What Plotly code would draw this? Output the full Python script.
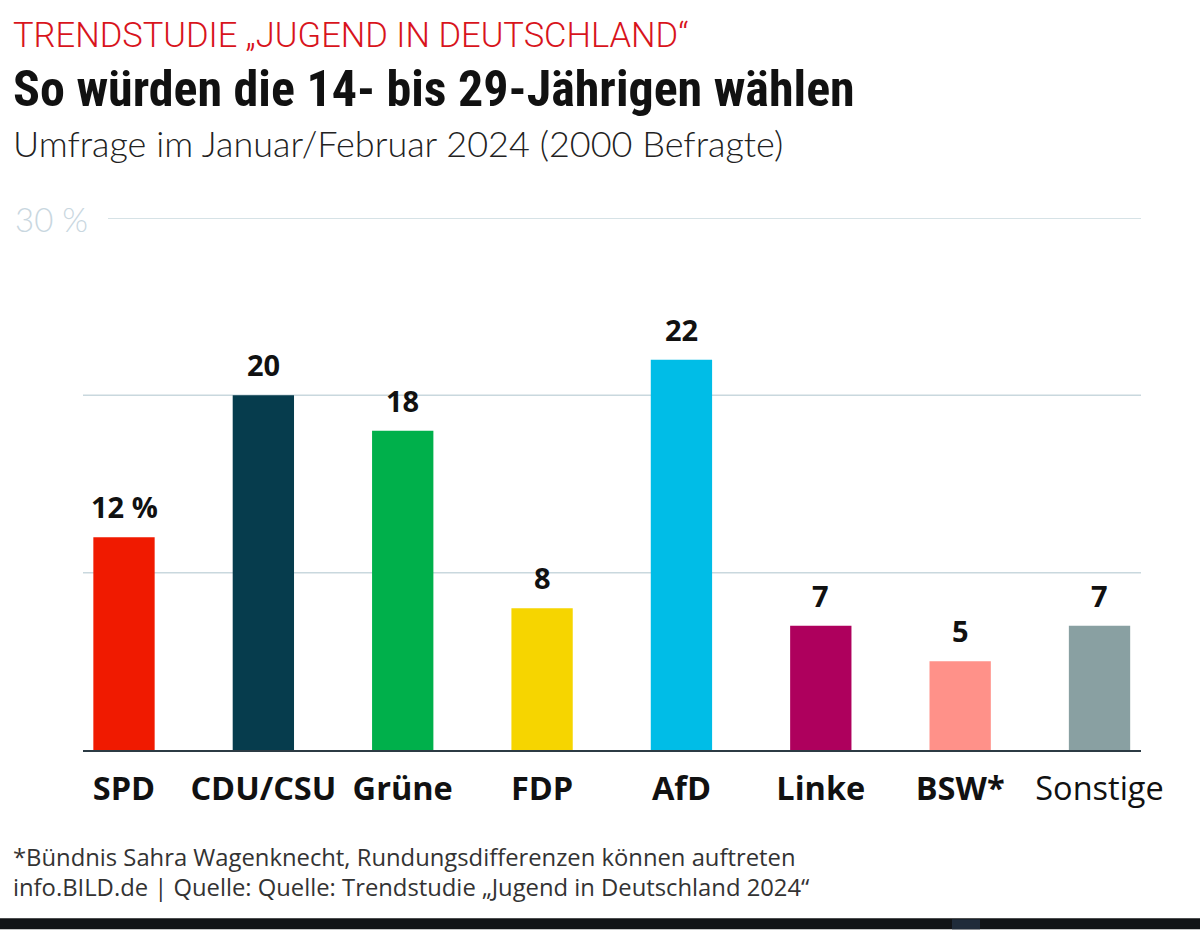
import plotly.graph_objects as go

# ---- data ----
categories = ["SPD", "CDU/CSU", "Grüne", "FDP", "AfD", "Linke", "BSW*", "Sonstige"]
values = [12, 20, 18, 8, 22, 7, 5, 7]
value_labels = ["12 %", "20", "18", "8", "22", "7", "5", "7"]
bold_flags = [True, True, True, True, True, True, True, False]
colors = ["#f01a00", "#063c4d", "#00b04b", "#f6d500", "#00bde7", "#ae005d", "#ff9189", "#89a0a2"]
grid_values = [10, 20, 30]

W, H = 1200, 930
OFF = 0  # page body margin removed via post_script
# plot area in page pixels
P_LEFT, P_RIGHT, P_TOP, P_BOTTOM = 83, 1141, 218, 750.5
L = P_LEFT - OFF
R = W - (P_RIGHT - OFF)
T = P_TOP - OFF
B = H - (P_BOTTOM - OFF)
PW, PH = P_RIGHT - P_LEFT, P_BOTTOM - P_TOP


def px(xp):
    return (xp - P_LEFT) / PW


def py(yp):
    return (P_BOTTOM - yp) / PH


# x range so that category centres fall at the reference positions
x0 = (P_LEFT - 124) / 139.36
x1 = (P_RIGHT - 124) / 139.36

fig = go.Figure()
fig.add_trace(go.Bar(
    x=list(range(len(categories))),
    y=values,
    marker=dict(color=colors, line=dict(width=0)),
    width=0.44,
    hoverinfo="skip",
))

ticktext = [f"<b>{c}</b>" if b else c for c, b in zip(categories, bold_flags)]

fig.update_layout(
    width=W, height=H,
    margin=dict(l=L, r=R, t=T, b=B, pad=0),
    paper_bgcolor="white", plot_bgcolor="white",
    showlegend=False,
    font=dict(family="Open Sans, DejaVu Sans, sans-serif", color="#111"),
    xaxis=dict(
        range=[x0, x1],
        tickmode="array",
        tickvals=list(range(len(categories))),
        ticktext=ticktext,
        tickfont=dict(size=32.5, color="#111", family="Open Sans, sans-serif"),
        showgrid=False, zeroline=False,
        showline=True, linecolor="#2c3b44", linewidth=2,
        ticks="", ticklabelstandoff=9,
        fixedrange=True,
    ),
    yaxis=dict(
        range=[0, 30],
        showgrid=False, zeroline=False, showticklabels=False,
        fixedrange=True,
    ),
)

# grid lines
for g in grid_values:
    fig.add_shape(
        type="line", xref="paper", yref="y",
        x0=px(108) if g == 30 else 0, x1=1, y0=g, y1=g,
        line=dict(color="#c9d8de", width=1.5), layer="below",
    )

# value labels
for i, (v, t) in enumerate(zip(values, value_labels)):
    fig.add_annotation(
        x=i, y=v, xref="x", yref="y", text=f"<b>{t}</b>",
        showarrow=False, yanchor="bottom", yshift=9,
        font=dict(size=29, color="#111", family="Open Sans, sans-serif"),
    )

# "30 %" axis label
fig.add_annotation(
    x=px(13), y=py(219), xref="paper", yref="paper", text="30 %",
    showarrow=False, xanchor="left", yanchor="middle",
    font=dict(size=33, color="#c9d7df", family="Lato, sans-serif", weight=300),
)

# header texts
fig.add_annotation(
    x=px(11), y=py(35), xref="paper", yref="paper",
    text="TRENDSTUDIE „JUGEND IN DEUTSCHLAND“",
    showarrow=False, xanchor="left", yanchor="middle",
    font=dict(size=34.5, color="#d8141c", family="Roboto, sans-serif", weight=300),
)
fig.add_annotation(
    x=px(11), y=py(89), xref="paper", yref="paper",
    text="<b>So würden die 14- bis 29-Jährigen wählen</b>",
    showarrow=False, xanchor="left", yanchor="middle",
    font=dict(size=50, color="#111", family="Roboto Condensed, Liberation Sans Narrow, sans-serif", weight=700),
)
fig.add_annotation(
    x=px(11), y=py(143), xref="paper", yref="paper",
    text="Umfrage im Januar/Februar 2024 (2000 Befragte)",
    showarrow=False, xanchor="left", yanchor="middle",
    font=dict(size=36, color="#222", family="Lato, sans-serif", weight=300),
)

# footnotes
fig.add_annotation(
    x=px(11), y=py(858), xref="paper", yref="paper",
    text="*Bündnis Sahra Wagenknecht, Rundungsdifferenzen können auftreten",
    showarrow=False, xanchor="left", yanchor="middle",
    font=dict(size=23.8, color="#333", family="Open Sans, sans-serif"),
)
fig.add_annotation(
    x=px(11), y=py(888), xref="paper", yref="paper",
    text="info.BILD.de | Quelle: Quelle: Trendstudie „Jugend in Deutschland 2024“",
    showarrow=False, xanchor="left", yanchor="middle",
    font=dict(size=23.8, color="#333", family="Open Sans, sans-serif"),
)

# dark strip at the very bottom of the page
fig.add_shape(type="rect", xref="paper", yref="paper",
              x0=px(0), x1=px(W), y0=py(H), y1=py(919),
              fillcolor="#111316", line=dict(width=0), layer="above")
fig.add_shape(type="rect", xref="paper", yref="paper",
              x0=px(952), x1=px(980), y0=py(H), y1=py(920),
              fillcolor="#1f2b3a", line=dict(width=0), layer="above")

fig.write_html(
    "out.html",
    config={"displayModeBar": False},
    post_script="document.body.style.margin='0';document.body.style.overflow='hidden';",
)
